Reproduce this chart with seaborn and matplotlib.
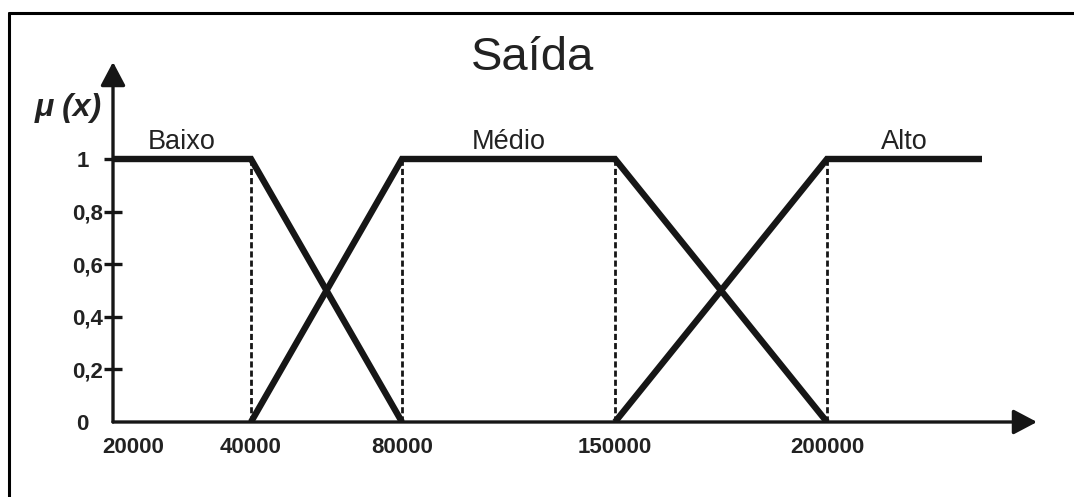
import numpy as np
import pandas as pd
import matplotlib
matplotlib.use("Agg")
import matplotlib.pyplot as plt
import seaborn as sns
from matplotlib.lines import Line2D
from matplotlib.transforms import ScaledTranslation

# Data: fuzzy sets of the output variable
baixo_x = [20000, 40000, 80000]
baixo_mu = [1, 1, 0]
medio_x = [40000, 80000, 150000, 200000]
medio_mu = [0, 1, 1, 0]
alto_x = [150000, 200000, 240000]
alto_mu = [0, 1, 1]
set_names = ["Baixo", "Médio", "Alto"]

x_ticks = [20000, 40000, 80000, 150000, 200000]
y_ticks = [0, 0.2, 0.4, 0.6, 0.8, 1]
y_labels = ["0", "0,2", "0,4", "0,6", "0,8", "1"]
dashed_at = [40000, 80000, 150000, 200000]

df = pd.concat([
    pd.DataFrame({"set": "Baixo", "x": baixo_x, "mu": baixo_mu}),
    pd.DataFrame({"set": "Médio", "x": medio_x, "mu": medio_mu}),
    pd.DataFrame({"set": "Alto", "x": alto_x, "mu": alto_mu}),
])

# the drawing's x axis is not linear: piecewise mapping (pixels from origin)
knot_v = np.array(x_ticks + [alto_x[-1]], dtype=float)
knot_p = np.array([0, 138, 289, 502, 714, 869], dtype=float)


def _pw(v, a, b):
    v = np.asarray(v, dtype=float)
    out = np.interp(v, a, b)
    sr = (b[-1] - b[-2]) / (a[-1] - a[-2])
    sl = (b[1] - b[0]) / (a[1] - a[0])
    out = np.where(v > a[-1], b[-1] + (v - a[-1]) * sr, out)
    out = np.where(v < a[0], b[0] + (v - a[0]) * sl, out)
    return out


def fwd(v):
    return _pw(v, knot_v, knot_p)


def inv(p):
    return _pw(p, knot_p, knot_v)


sns.set_style("white")
plt.rcParams["font.family"] = ["Liberation Sans", "DejaVu Sans"]

W, H = 1074, 497
fig = plt.figure(figsize=(W / 100, H / 100), dpi=100)
ax = fig.add_axes([113 / W, 75 / H, 924 / W, 360 / H])
ax.set_xscale("function", functions=(fwd, inv))
ax.set_xlim(20000, float(inv(924)))
ax.set_ylim(0, 360 / 263)

ink = "#161616"
ax.vlines(dashed_at, 0, 1, colors=ink, linewidth=2, linestyles=(0, (2.2, 1.1)))
sns.lineplot(data=df, x="x", y="mu", hue="set", palette={s: ink for s in set_names},
             estimator=None, sort=False, legend=False, linewidth=4.6, ax=ax,
             solid_joinstyle="miter", solid_capstyle="butt")

# set names above the plateaus
plateaus = {"Baixo": (baixo_x[0], baixo_x[1]), "Médio": (medio_x[1], medio_x[2]),
            "Alto": (alto_x[1], alto_x[2])}
for name, (a, b) in plateaus.items():
    xm = float(inv((fwd(a) + fwd(b)) / 2))
    ax.annotate(name, xy=(xm, 1), xytext=(0, 7), textcoords="offset points",
                ha="center", va="baseline", fontsize=19.5, color="#222222",
                annotation_clip=False)

# arrow axes
for spine in ax.spines.values():
    spine.set_visible(False)
arrow = dict(arrowstyle="-|>,head_length=0.72,head_width=0.38", mutation_scale=20,
             lw=2.4, color=ink, shrinkA=0, shrinkB=0)
ax.annotate("", xy=(1, 0), xytext=(0, 0), xycoords="axes fraction",
            arrowprops=arrow, annotation_clip=False)
ax.annotate("", xy=(0, 1), xytext=(0, 0), xycoords="axes fraction",
            arrowprops=arrow, annotation_clip=False)

ax.set_xticks(x_ticks)
ax.set_xticklabels([str(v) for v in x_ticks], fontsize=16, fontweight="bold", color="#222222")
ax.set_yticks(y_ticks)
ax.set_yticklabels(y_labels, fontsize=16, fontweight="bold", color="#222222")
ax.tick_params(axis="x", length=0, pad=11)
ax.tick_params(axis="y", direction="inout", length=13, width=2.4, color=ink, pad=1, left=True)
ax.minorticks_off()
ax.set_xlabel("")
ax.set_ylabel("")
ax.yaxis.get_major_ticks()[0].tick1line.set_visible(False)

# small label nudges, as in the drawing
ylbl = ax.get_yticklabels()
for i in (0, len(ylbl) - 1):
    ylbl[i].set_transform(ylbl[i].get_transform() + ScaledTranslation(-0.14, 0, fig.dpi_scale_trans))
xlbl = ax.get_xticklabels()
xlbl[0].set_transform(xlbl[0].get_transform() + ScaledTranslation(0.2, 0, fig.dpi_scale_trans))

fig.text(533 / W, 1 - 70 / H, "Saída", ha="center", va="baseline", fontsize=34, color="#222222")
fig.text(102 / W, 1 - 116 / H, "μ (x)", ha="right", va="baseline", fontsize=23,
         fontweight="bold", fontstyle="italic", color="#222222")

# outer frame (top and left edges visible)
fig.add_artist(Line2D([9 / W, 1], [1 - 13 / H, 1 - 13 / H], color="black", lw=2.2))
fig.add_artist(Line2D([9 / W, 9 / W], [0, 1 - 13 / H], color="black", lw=2.2))

fig.savefig("out.png", dpi=100)
